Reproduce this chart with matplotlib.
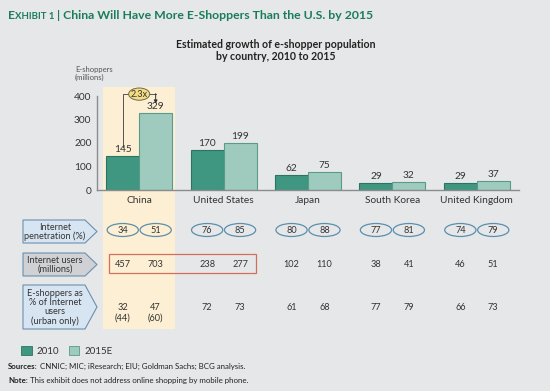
import matplotlib
matplotlib.use("Agg")
import matplotlib.pyplot as plt
import numpy as np
from matplotlib.patches import Ellipse, Polygon, Rectangle, Patch
from matplotlib.transforms import blended_transform_factory

countries = ["China", "United States", "Japan", "South Korea", "United Kingdom"]
series = ["2010", "2015E"]
eshoppers_2010 = [145, 170, 62, 29, 29]
eshoppers_2015 = [329, 199, 75, 32, 37]
penetration_2010 = [34, 76, 80, 77, 74]
penetration_2015 = [51, 85, 88, 81, 79]
users_2010 = [457, 238, 102, 38, 46]
users_2015 = [703, 277, 110, 41, 51]
share_2010 = [32, 72, 61, 77, 66]
share_2015 = [47, 73, 68, 79, 73]
share_urban_2010 = ["(44)", "", "", "", ""]
share_urban_2015 = ["(60)", "", "", "", ""]
growth_label = "2.3x"
yticks = [0, 100, 200, 300, 400]

BG = "#e6e7e8"
DARK = "#3f9782"
DARK_EDGE = "#2c7462"
LIGHT = "#9fcbbf"
LIGHT_EDGE = "#5a9a8b"
BAND = "#fcefd3"
GREEN = "#1a7d5a"
TXT = "#333333"
ELL = "#5b8fae"
BOX_BLUE = "#d7e5f2"
BOX_GRAY = "#cfd1d4"
BOX_EDGE = "#6a8fae"
RED = "#d0705c"

plt.rcParams["font.family"] = ["Lato", "DejaVu Sans"]

W, H = 550, 391
fig = plt.figure(figsize=(W / 100, H / 100), dpi=100, facecolor=BG)

# overlay axes in pixel coordinates for the table and notes
ov = fig.add_axes([0, 0, 1, 1], zorder=0)
ov.set_xlim(0, W)
ov.set_ylim(H, 0)
ov.axis("off")

# bar axes
ax = fig.add_axes([97 / W, (H - 190) / H, 422 / W, 94 / H], zorder=1)
ax.patch.set_alpha(0)
ax.set_xlim(-0.5, 4.5)
ax.set_ylim(0, 400)

tr = blended_transform_factory(ax.transData, ov.transData)
x = np.arange(len(countries))
off, bw = 0.195, 0.39

# China highlight band
ov.add_patch(Rectangle((-0.43, 87), 0.86, 329 - 87, transform=tr,
                       facecolor=BAND, edgecolor="none", zorder=0))

ax.bar(x - off, eshoppers_2010, bw, color=DARK, edgecolor=DARK_EDGE, lw=0.8)
ax.bar(x + off, eshoppers_2015, bw, color=LIGHT, edgecolor=LIGHT_EDGE, lw=0.8)
for xi, a, b in zip(x, eshoppers_2010, eshoppers_2015):
    ax.annotate(str(a), (xi - off, a), xytext=(0, 1.5), textcoords="offset points",
                ha="center", va="bottom", fontsize=7.3, color=TXT)
    ax.annotate(str(b), (xi + off, b), xytext=(0, 1.5), textcoords="offset points",
                ha="center", va="bottom", fontsize=7.3, color=TXT)

for s in ["top", "right"]:
    ax.spines[s].set_visible(False)
for s in ["left", "bottom"]:
    ax.spines[s].set_color("#8a8c8e")
    ax.spines[s].set_linewidth(1)
ax.set_yticks(yticks)
ax.set_xticks(x, countries)
ax.tick_params(axis="y", length=0, pad=4, labelsize=7.3, labelcolor=TXT)
ax.tick_params(axis="x", length=0, pad=4, labelsize=7.3, labelcolor=TXT)

ov.text(75, 66, "E-shoppers\n(millions)", fontsize=5.5, color="#555555",
        va="top", ha="left", linespacing=1.1)

# 2.3x growth bracket on China
ytop = 408
ax.plot([-off, -off, -0.12], [182, ytop, ytop], color="#555555", lw=0.7, clip_on=False)
ax.plot([0.12, off], [ytop, ytop], color="#555555", lw=0.7, clip_on=False)
ax.annotate("", xy=(off, eshoppers_2015[0] + 38), xytext=(off, ytop + 2),
            arrowprops=dict(arrowstyle="-|>", lw=0.7, color="#333333", mutation_scale=5,
                            shrinkA=0, shrinkB=0), annotation_clip=False)
ax.add_patch(Ellipse((0, ytop), 0.25, 52, facecolor="#f4dc86", edgecolor="#6b6b4a",
                     lw=0.7, clip_on=False, zorder=3))
ax.text(0, ytop, growth_label, ha="center", va="center", fontsize=6.5, color=TXT,
        zorder=4, clip_on=False)

# row labels (arrow boxes)
def row_box(top, bottom, label, fc):
    pts = [(23, top), (85, top), (97, (top + bottom) / 2), (85, bottom), (23, bottom)]
    ov.add_patch(Polygon(pts, closed=True, facecolor=fc, edgecolor=BOX_EDGE, lw=0.8))
    ov.text(55, (top + bottom) / 2 + 0.5, label, ha="center", va="center", fontsize=6.6,
            color=TXT, linespacing=1.0)

row_box(220, 243, "Internet\npenetration (%)", BOX_BLUE)
row_box(253, 276, "Internet users\n(millions)", BOX_GRAY)
row_box(285, 329, "E-shoppers as\n% of Internet\nusers\n(urban only)", BOX_BLUE)

# row 1: internet penetration in ellipses
for xi, a, b in zip(x, penetration_2010, penetration_2015):
    for xx, v in ((xi - off, a), (xi + off, b)):
        ov.add_patch(Ellipse((xx, 230), 0.37, 13, transform=tr, facecolor="none",
                             edgecolor=ELL, lw=0.9))
        ov.text(xx, 230.5, str(v), transform=tr, ha="center", va="center",
                fontsize=6.6, color=TXT)

# row 2: internet users
for xi, a, b in zip(x, users_2010, users_2015):
    ov.text(xi - off, 264.5, str(a), transform=tr, ha="center", va="center", fontsize=6.6, color=TXT)
    ov.text(xi + off, 264.5, str(b), transform=tr, ha="center", va="center", fontsize=6.6, color=TXT)
ov.add_patch(Rectangle((-off - 0.16, 254), 1 + 2 * off + 0.35, 19, transform=tr,
                       facecolor="none", edgecolor=RED, lw=0.9))

# row 3: e-shoppers as % of users
for xi, a, b, ua, ub in zip(x, share_2010, share_2015, share_urban_2010, share_urban_2015):
    ov.text(xi - off, 307, str(a), transform=tr, ha="center", va="center", fontsize=6.6, color=TXT)
    ov.text(xi + off, 307, str(b), transform=tr, ha="center", va="center", fontsize=6.6, color=TXT)
    ov.text(xi - off, 318, ua, transform=tr, ha="center", va="center", fontsize=6.6, color=TXT)
    ov.text(xi + off, 318, ub, transform=tr, ha="center", va="center", fontsize=6.6, color=TXT)

# legend
handles = [Patch(facecolor=DARK, edgecolor=DARK_EDGE, lw=0.6),
           Patch(facecolor=LIGHT, edgecolor=LIGHT_EDGE, lw=0.6)]
fig.legend(handles, series, loc="center left", bbox_to_anchor=(21 / W, 1 - 351 / H),
           ncol=2, frameon=False, handlelength=1.1, handleheight=1.0, fontsize=7,
           columnspacing=1.0, handletextpad=0.5, borderpad=0, borderaxespad=0,
           labelcolor=TXT)

renderer = fig.canvas.get_renderer()


def run_text(x0, y0, parts):
    for s, kw in parts:
        t = ov.text(x0, y0, s, va="baseline", ha="left", **kw)
        x0 += t.get_window_extent(renderer).width


run_text(8, 19, [("E", dict(fontsize=8.8, weight="bold", color=GREEN)),
                 ("XHIBIT 1", dict(fontsize=6.9, weight="bold", color=GREEN)),
                 (" | China Will Have More E-Shoppers Than the U.S. by 2015",
                  dict(fontsize=8.8, weight="bold", color=GREEN))])

ov.text(276, 50.5, "Estimated growth of e-shopper population\nby country, 2010 to 2015",
        ha="center", va="center", fontsize=7.6, weight="bold", color="#222222",
        linespacing=1.15)

run_text(8, 369, [("Sources:", dict(fontsize=5.7, weight="bold", color="#222222")),
                  (" CNNIC; MIC; iResearch; EIU; Goldman Sachs; BCG analysis.",
                   dict(fontsize=5.7, color="#222222"))])
run_text(8, 383, [("Note:", dict(fontsize=5.7, weight="bold", color="#222222")),
                  (" This exhibit does not address online shopping by mobile phone.",
                   dict(fontsize=5.7, color="#222222"))])

fig.savefig("out.png", dpi=100, facecolor=BG)
